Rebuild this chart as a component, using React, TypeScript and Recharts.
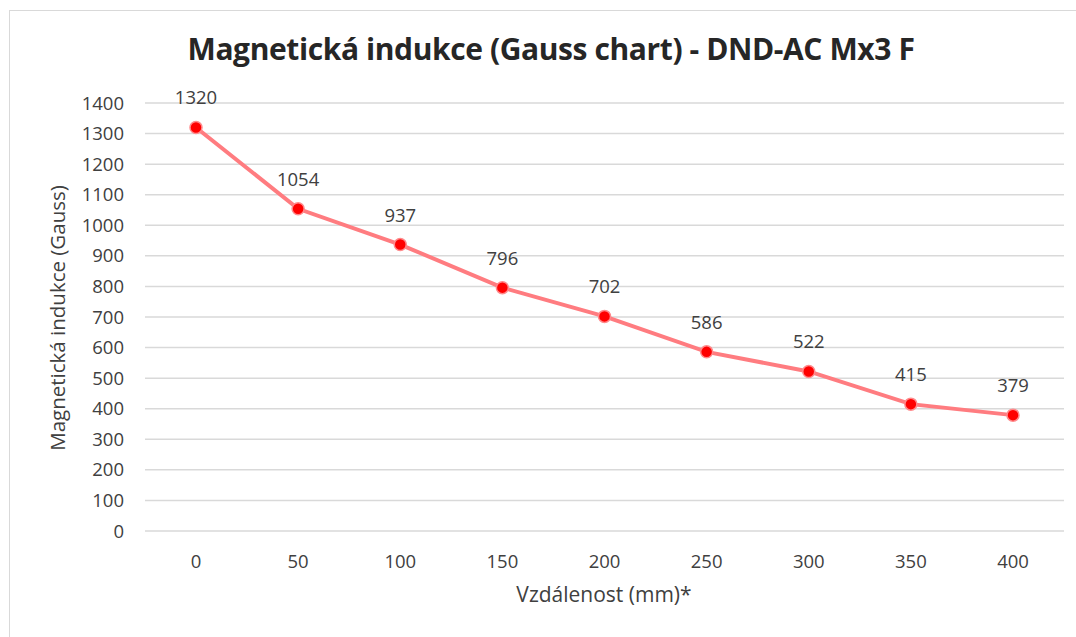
import React from 'react';
import { LineChart, Line, XAxis, YAxis, CartesianGrid, LabelList } from 'recharts';

const distances = ['0', '50', '100', '150', '200', '250', '300', '350', '400'];
const gauss = [1320, 1054, 937, 796, 702, 586, 522, 415, 379];
const yTicks = [0, 100, 200, 300, 400, 500, 600, 700, 800, 900, 1000, 1100, 1200, 1300, 1400];

const data = distances.map((d, i) => ({ distance: d, value: gauss[i] }));

const FONT = '"Open Sans", "Noto Sans", sans-serif';

export default function App() {
  return (
    <div style={{ position: 'absolute', left: 0, top: 0, width: 1076, height: 637, background: '#fff', overflow: 'hidden', fontFamily: FONT }}>
      <div style={{ position: 'absolute', left: 9, top: 10, width: 1100, height: 700, border: '1.5px solid #d9d9d9', boxSizing: 'border-box' }} />
      <div style={{ position: 'absolute', left: 0, width: 1102, top: 28, textAlign: 'center', fontSize: 30, fontWeight: 700, color: '#262626', letterSpacing: -0.4 }}>
        Magnetická indukce (Gauss chart) - DND-AC Mx3 F
      </div>
      <div style={{ position: 'absolute', left: 57, top: 318, transform: 'translate(-50%, -50%) rotate(-90deg)', whiteSpace: 'nowrap', fontSize: 20.5, color: '#404040' }}>
        Magnetická indukce (Gauss)
      </div>
      <div style={{ position: 'absolute', left: 604, top: 594, transform: 'translate(-50%, -50%)', whiteSpace: 'nowrap', fontSize: 21, color: '#404040' }}>
        Vzdálenost (mm)*
      </div>
      <LineChart width={1076} height={637} data={data} margin={{ top: 103, right: 12, bottom: 76, left: 85 }} style={{ position: 'absolute', left: 0, top: 0 }}>
        <CartesianGrid vertical={false} stroke="#d9d9d9" strokeWidth={1.5} />
        <XAxis dataKey="distance" axisLine={false} tickLine={false} tickSize={0} tickMargin={24} interval={0}
          padding={{ left: 51, right: 51 }} height={30}
          tick={{ fill: '#404040', fontSize: 18.5, fontFamily: FONT }} />
        <YAxis domain={[0, 1400]} ticks={yTicks} axisLine={false} tickLine={false} tickSize={0} tickMargin={21} width={60}
          tick={{ fill: '#404040', fontSize: 18.5, fontFamily: FONT }} />
        <Line type="linear" dataKey="value" stroke="#ff7c80" strokeWidth={4} isAnimationActive={false}
          dot={{ r: 6, fill: '#ff0000', stroke: '#ff8a8c', strokeWidth: 1.5 }}>
          <LabelList dataKey="value" position="top" offset={23} fill="#404040" fontSize={18.5} fontFamily={FONT} />
        </Line>
      </LineChart>
    </div>
  );
}
